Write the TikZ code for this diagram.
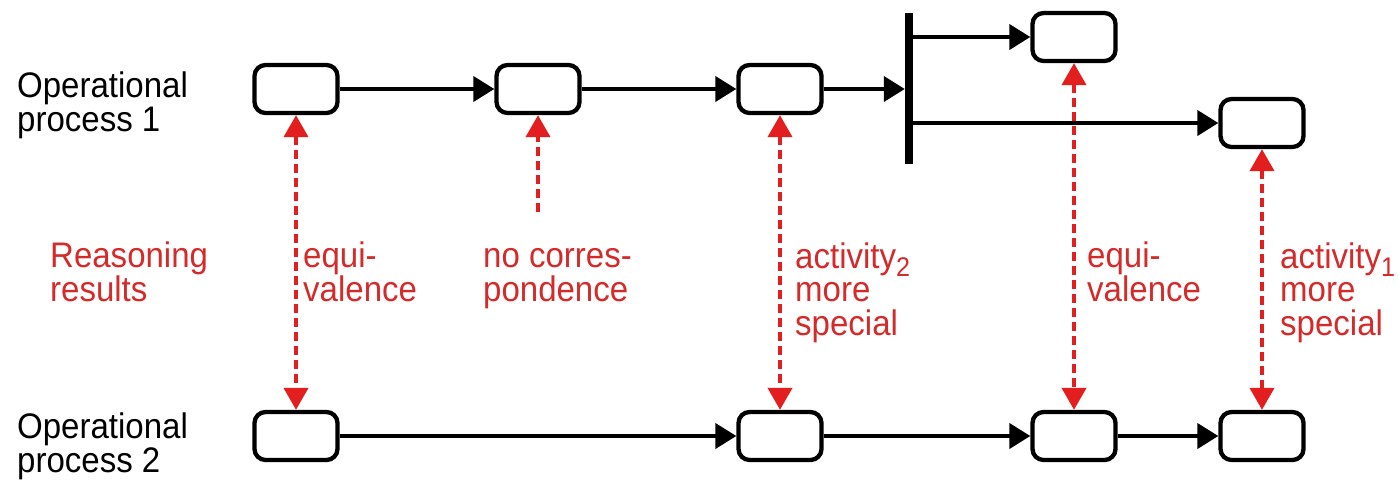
\documentclass[tikz,border=0pt]{standalone}
\usepackage{fontspec}
\setmainfont[FakeStretch=0.93]{Liberation Sans}
\usetikzlibrary{arrows.meta}
\definecolor{txtred}{RGB}{212,42,42}
\definecolor{arrred}{RGB}{226,30,30}
\newcommand{\sbs}[1]{\raisebox{-0.25em}{\fontsize{27}{27}\selectfont #1}}
\begin{document}
\begin{tikzpicture}[x=1pt,y=-1pt,
  box/.style={draw=black,line width=4.3pt,rounded corners=11pt,minimum width=83pt,minimum height=48pt,inner sep=0pt},
  bar/.style={fill=black,draw=none,minimum width=8pt,minimum height=151pt,inner sep=0pt},
  arr/.style={line width=4pt,-{Triangle[length=21pt,width=25pt]}},
  redarr/.style={draw=arrred,line width=4pt,dash pattern=on 9pt off 5pt,{Triangle[length=22pt,width=24pt,fill=arrred]}-{Triangle[length=22pt,width=24pt,fill=arrred]}},
  redone/.style={draw=arrred,line width=4pt,dash pattern=on 9pt off 5pt,-{Triangle[length=22pt,width=24pt,fill=arrred]}},
  lbl/.style={font=\fontsize{35.5}{33.5}\selectfont,align=left,inner sep=0pt,anchor=base west},
  rlbl/.style={lbl,text=txtred}]
\useasboundingbox (0,0) rectangle (1399,480);
% row 1
\node[box] (a1) at (296,89) {};
\node[box] (a2) at (538,89) {};
\node[box] (a3) at (780,89) {};
\node[bar] (bar) at (909,88) {};
\node[box] (a4) at (1074,37) {};
\node[box] (a5) at (1262,123) {};
% row 2
\node[box] (b1) at (296,436) {};
\node[box] (b2) at (780,436) {};
\node[box] (b3) at (1074,436) {};
\node[box] (b4) at (1262,436) {};
\coordinate (nc) at (538,212);
% black connectors
\draw[arr] (a1) -- (a2);
\draw[arr] (a2) -- (a3);
\draw[arr] (a3) -- (bar.west |- a3);
\draw[arr] (bar.east |- a4) -- (a4);
\draw[arr] (bar.east |- a5) -- (a5);
\draw[arr] (b1) -- (b2);
\draw[arr] (b2) -- (b3);
\draw[arr] (b3) -- (b4);
% red connectors
\draw[redarr] (a1) -- (b1);
\draw[redone] (nc) -- (a2);
\draw[redarr] (a3) -- (b2);
\draw[redarr] (a4) -- (b3);
\draw[redarr] (a5) -- (b4);
% labels
\node[lbl] (t1) at (17,131) {Operational\\process 1};
\node[lbl] (t2) at (17,472) {Operational\\process 2};
\node[rlbl] (r0) at (50,301) {Reasoning\\results};
\node[rlbl] (r1) at (303,301) {equi-\\valence};
\node[rlbl] (r2) at (483,301) {no corres-\\pondence};
\node[rlbl] (r3) at (795,335) {activity\sbs{2}\\more\\special};
\node[rlbl] (r4) at (1087,301) {equi-\\valence};
\node[rlbl] (r5) at (1280,335) {activity\sbs{1}\\more\\special};
\end{tikzpicture}
\end{document}
